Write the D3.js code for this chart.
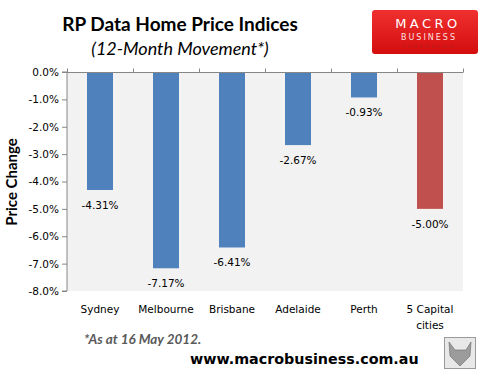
<!DOCTYPE html>
<html>
<head>
<meta charset="utf-8">
<script src="https://cdn.jsdelivr.net/npm/d3@7"></script>
<style>
  body { margin: 0; background: #fff; }
  svg { display: block; }
</style>
</head>
<body>
<div id="chart"></div>
<script>
const categories = ["Sydney", "Melbourne", "Brisbane", "Adelaide", "Perth", "5 Capital cities"];
const values = [-4.31, -7.17, -6.41, -2.67, -0.93, -5.00];
const barColors = ["#4f81bd", "#4f81bd", "#4f81bd", "#4f81bd", "#4f81bd", "#c0504d"];
const yTicks = [0, -1, -2, -3, -4, -5, -6, -7, -8];

const width = 488, height = 382;
const plot = { left: 67, right: 463, top: 72, bottom: 291 };

const svg = d3.select("#chart").append("svg")
  .attr("width", width)
  .attr("height", height);

const x = d3.scaleBand().domain(categories)
  .range([plot.left, plot.right]).paddingInner(0).paddingOuter(0);
const y = d3.scaleLinear().domain([-8, 0]).range([plot.bottom, plot.top]);

// plot background
svg.append("rect")
  .attr("x", plot.left).attr("y", plot.top)
  .attr("width", plot.right - plot.left).attr("height", plot.bottom - plot.top)
  .attr("fill", "#f2f2f2");

// bars
const barW = 26;
svg.selectAll("rect.bar")
  .data(values)
  .enter().append("rect")
  .attr("class", "bar")
  .attr("x", (d, i) => x(categories[i]) + x.bandwidth() / 2 - barW / 2)
  .attr("y", y(0))
  .attr("width", barW)
  .attr("height", d => y(d) - y(0))
  .attr("fill", (d, i) => barColors[i]);

// value labels
svg.selectAll("text.val")
  .data(values)
  .enter().append("text")
  .attr("class", "val")
  .attr("x", (d, i) => x(categories[i]) + x.bandwidth() / 2)
  .attr("y", d => y(d) + 19)
  .attr("text-anchor", "middle")
  .attr("font-family", "DejaVu Sans, sans-serif")
  .attr("font-size", 10.5)
  .attr("fill", "#000")
  .text(d => d.toFixed(2) + "%");

// y axis
const yAxis = d3.axisLeft(y).tickValues(yTicks).tickSize(5)
  .tickFormat(d => (d === 0 ? "0.0" : d.toFixed(1)) + "%");
const gy = svg.append("g").attr("transform", `translate(${plot.left},0)`).call(yAxis);
gy.select(".domain").attr("stroke", "#868686").attr("d", `M-5,${plot.bottom}H0V${plot.top}H-5`);
gy.selectAll(".tick line").attr("stroke", "#868686");
gy.selectAll(".tick text")
  .attr("font-family", "DejaVu Sans, sans-serif")
  .attr("font-size", 10.5)
  .attr("fill", "#000")
  .attr("x", -8);

// x axis at zero, ticks between categories pointing up
const xBounds = categories.map(c => x(c)).concat([plot.right]);
svg.append("line")
  .attr("x1", plot.left).attr("x2", plot.right)
  .attr("y1", y(0) + 0.5).attr("y2", y(0) + 0.5)
  .attr("stroke", "#868686");
svg.selectAll("line.xtick")
  .data(xBounds)
  .enter().append("line")
  .attr("class", "xtick")
  .attr("x1", d => d + 0.5).attr("x2", d => d + 0.5)
  .attr("y1", y(0) + 0.5).attr("y2", y(0) - 3.5)
  .attr("stroke", "#868686");

// category labels
svg.selectAll("text.cat")
  .data(categories)
  .enter().append("text")
  .attr("class", "cat")
  .attr("x", d => x(d) + x.bandwidth() / 2)
  .attr("y", 313)
  .attr("text-anchor", "middle")
  .attr("font-family", "DejaVu Sans, sans-serif")
  .attr("font-size", 10.5)
  .attr("fill", "#000")
  .each(function (d) {
    const words = d === "5 Capital cities" ? ["5 Capital", "cities"] : [d];
    words.forEach((w, k) => {
      d3.select(this).append("tspan")
        .attr("x", x(d) + x.bandwidth() / 2)
        .attr("dy", k === 0 ? 0 : 16)
        .text(w);
    });
  });

// y axis title
svg.append("text")
  .attr("transform", "translate(17,182) rotate(-90)")
  .attr("text-anchor", "middle")
  .attr("font-family", "Lato, sans-serif")
  .attr("font-weight", "bold")
  .attr("font-size", 15)
  .text("Price Change");

// titles
svg.append("text")
  .attr("x", 180).attr("y", 31)
  .attr("text-anchor", "middle")
  .attr("font-family", "Lato, sans-serif")
  .attr("font-weight", "bold")
  .attr("font-size", 19)
  .text("RP Data Home Price Indices");
svg.append("text")
  .attr("x", 180).attr("y", 55)
  .attr("text-anchor", "middle")
  .attr("font-family", "Lato, sans-serif")
  .attr("font-style", "italic")
  .attr("font-size", 18)
  .text("(12-Month Movement*)");

// footnote and url
svg.append("text")
  .attr("x", 84).attr("y", 344)
  .attr("font-family", "Lato, sans-serif")
  .attr("font-weight", "bold")
  .attr("font-style", "italic")
  .attr("font-size", 13.5)
  .attr("fill", "#595959")
  .text("*As at 16 May 2012.");
svg.append("text")
  .attr("x", 190).attr("y", 364)
  .attr("font-family", "DejaVu Sans, sans-serif")
  .attr("font-weight", "bold")
  .attr("font-size", 14.3)
  .attr("fill", "#000")
  .text("www.macrobusiness.com.au");

// logo
const defs = svg.append("defs");
const lg = defs.append("linearGradient").attr("id", "logoGrad").attr("x1", 0).attr("x2", 0).attr("y1", 0).attr("y2", 1);
lg.append("stop").attr("offset", "0%").attr("stop-color", "#f03030");
lg.append("stop").attr("offset", "100%").attr("stop-color", "#d40d0d");
svg.append("rect")
  .attr("x", 372).attr("y", 10).attr("width", 106).attr("height", 44)
  .attr("rx", 3)
  .attr("fill", "url(#logoGrad)");
svg.append("text").attr("x", 428).attr("y", 28).attr("text-anchor", "middle")
  .attr("font-family", "DejaVu Sans, sans-serif").attr("font-size", 13)
  .attr("letter-spacing", 3.5).attr("fill", "#fff").text("MACRO");
svg.append("text").attr("x", 429).attr("y", 40).attr("text-anchor", "middle")
  .attr("font-family", "DejaVu Sans, sans-serif").attr("font-size", 8)
  .attr("letter-spacing", 2).attr("fill", "#fbe0e0").text("BUSINESS");
svg.append("text").attr("x", 429).attr("y", 48).attr("text-anchor", "middle")
  .attr("font-family", "DejaVu Sans, sans-serif").attr("font-size", 4.5)
  .attr("letter-spacing", 3).attr("fill", "#b02020").text("SUPERBLOG");

// wolf badge
svg.append("rect")
  .attr("x", 444.5).attr("y", 337.5).attr("width", 31).attr("height", 31)
  .attr("fill", "#e8e8e8").attr("stroke", "#9a9a9a");
svg.append("path")
  .attr("d", "M449,342 L455,350 L466,350 L471,342 L470,356 L460,366 L450,356 Z")
  .attr("fill", "#9c9c9c").attr("stroke", "#666").attr("stroke-width", 0.6);
</script>
</body>
</html>
